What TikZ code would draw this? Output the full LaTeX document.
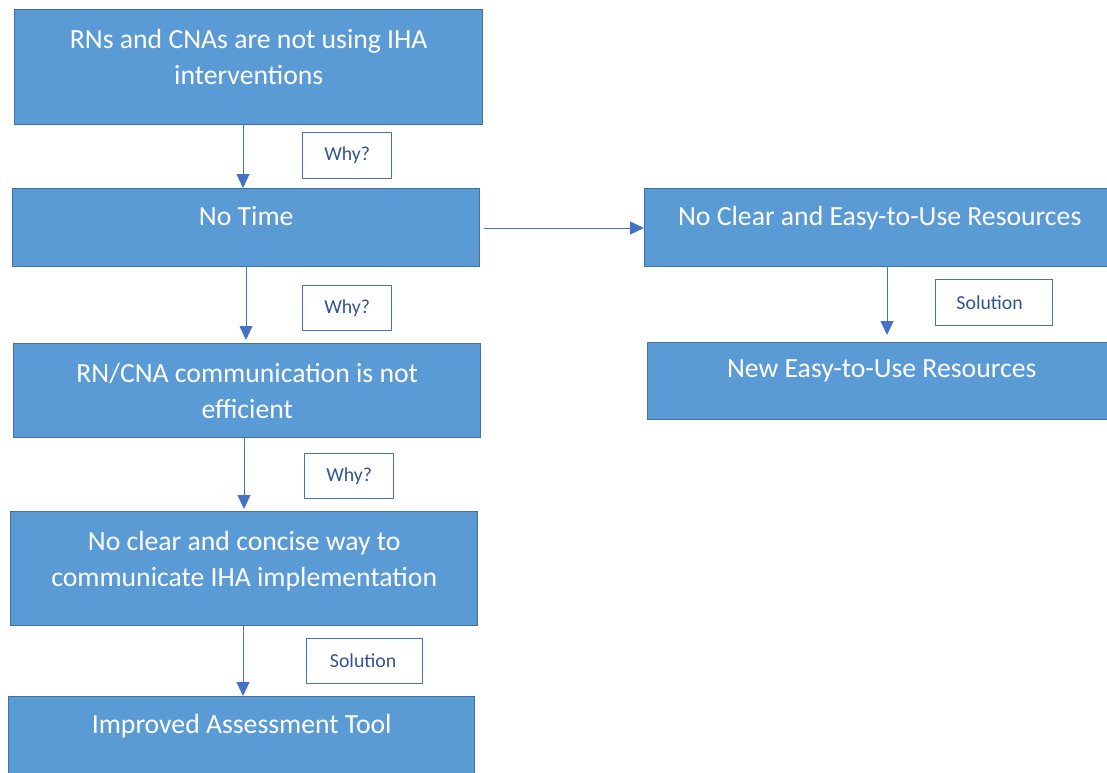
\documentclass[tikz,border=0pt]{standalone}
\usepackage{fontspec}
\setmainfont{Carlito}
\usetikzlibrary{arrows.meta}
\definecolor{boxfill}{HTML}{5B9BD5}
\definecolor{boxline}{HTML}{41719C}
\definecolor{arrowblue}{HTML}{4472C4}
\definecolor{labeltext}{HTML}{2F5597}
\tikzset{
  stepbox/.style={draw=boxline, line width=1.4pt, fill=boxfill, anchor=north west, inner sep=0pt},
  boxtext/.style={text=white, align=center, anchor=north, inner sep=0pt,
    font=\fontsize{27.7}{36}\selectfont},
  tagbox/.style={draw=arrowblue, line width=1.3pt, fill=white, anchor=north west, inner sep=0pt,
    text=labeltext, font=\fontsize{19.8}{22}\selectfont},
  flow/.style={draw=arrowblue, line width=0.9pt, -{Triangle[width=13pt,length=14pt]}},
}
\begin{document}
\begin{tikzpicture}[x=1pt,y=-1pt]
\useasboundingbox (0,0) rectangle (1107,772);
% left column
\node[stepbox, minimum width=468pt, minimum height=115pt] (b1) at (14,9) {};
\node[stepbox, minimum width=467pt, minimum height=78pt] (b2) at (12,188) {};
\node[stepbox, minimum width=467pt, minimum height=94pt] (b3) at (13,343) {};
\node[stepbox, minimum width=467pt, minimum height=114pt] (b4) at (10,511) {};
\node[stepbox, minimum width=466pt, minimum height=90pt] (b5) at (8,696) {};
% right column
\node[stepbox, minimum width=480pt, minimum height=78pt] (r1) at (644,188) {};
\node[stepbox, minimum width=480pt, minimum height=77pt] (r2) at (647,342) {};
% box texts
\node[boxtext] (t1) at ([yshift=-20pt]b1.north) {RNs and CNAs are not using IHA\\interventions};
\node[boxtext] (t2) at ([yshift=-18pt]b2.north) {No Time};
\node[boxtext] (t3) at ([yshift=-20pt]b3.north) {RN/CNA communication is not\\efficient};
\node[boxtext] (t4) at ([yshift=-20pt]b4.north) {No clear and concise way to\\communicate IHA implementation};
\node[boxtext] (t5) at ([yshift=-18pt]b5.north) {Improved Assessment Tool};
\node[boxtext] (t6) at ([xshift=-5pt,yshift=-18pt]r1.north) {No Clear and Easy-to-Use Resources};
\node[boxtext] (t7) at ([xshift=-6pt,yshift=-18pt]r2.north) {New Easy-to-Use Resources};
% tags
\node[tagbox, minimum width=89pt, minimum height=46pt] (w1) at (302,132) {Why?};
\node[tagbox, minimum width=89pt, minimum height=45pt] (w2) at (302,285) {Why?};
\node[tagbox, minimum width=89pt, minimum height=45pt] (w3) at (304,453) {Why?};
\node[tagbox, minimum width=116pt, minimum height=45pt, text width=104pt, align=center] (s1) at (306,638) {Solution\hspace*{3pt}};
\node[tagbox, minimum width=117pt, minimum height=46pt, text width=105pt, align=center] (s2) at (935,279) {Solution\hspace*{9pt}};
% connectors
\draw[flow] (b1.south -| 243,0) -- (b2.north -| 243,0);
\draw[flow] (b2.south -| 246,0) -- ([yshift=3pt]b3.north -| 246,0);
\draw[flow] (b3.south -| 244,0) -- ([yshift=2pt]b4.north -| 244,0);
\draw[flow] (b4.south -| 243,0) -- (b5.north -| 243,0);
\draw[flow] ([xshift=4pt]b2.east |- 0,228) -- (r1.west |- 0,228);
\draw[flow] (r1.south -| 887,0) -- ([yshift=7pt]r2.north -| 887,0);
\end{tikzpicture}
\end{document}
